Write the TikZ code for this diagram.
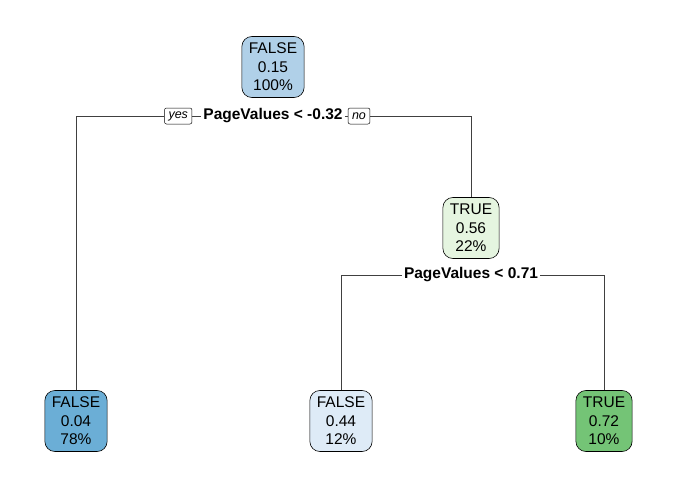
\documentclass[tikz,border=0pt]{standalone}
\usepackage{fontspec}
\setmainfont{Liberation Sans}
\usetikzlibrary{positioning}
\definecolor{rootblue}{RGB}{176,208,232}
\definecolor{darkblue}{RGB}{107,174,214}
\definecolor{paleblue}{RGB}{222,235,247}
\definecolor{palegreen}{RGB}{229,245,224}
\definecolor{midgreen}{RGB}{116,196,118}
\tikzset{
  tnode/.style  = {rectangle, draw=black, rounded corners=10pt, align=center,
                   font=\fontsize{15.5}{18.5}\selectfont, inner xsep=7pt,
                   inner ysep=3pt, minimum height=61pt, line width=0.6pt},
  split/.style  = {font=\fontsize{15.5}{17}\selectfont\bfseries, inner sep=2pt},
  yn/.style     = {rectangle, draw=black, rounded corners=2pt,
                   font=\fontsize{12.5}{13}\selectfont\itshape,
                   inner xsep=4pt, inner ysep=1.5pt, minimum height=16pt,
                   line width=0.5pt},
  edge/.style   = {draw=black!75, line width=0.8pt},
}
\begin{document}
\begin{tikzpicture}[x=1pt, y=-1pt]
  \useasboundingbox (0,0) rectangle (680,485);
  % tree nodes
  \node[tnode, fill=rootblue]   (root)  at (273,67)  {FALSE\\0.15\\100\%};
  \node[tnode, fill=palegreen]  (right) at (471,228) {TRUE\\0.56\\22\%};
  \node[tnode, fill=darkblue]   (leafA) at (76,421)  {FALSE\\0.04\\78\%};
  \node[tnode, fill=paleblue]   (leafB) at (341,421) {FALSE\\0.44\\12\%};
  \node[tnode, fill=midgreen]   (leafC) at (604,421) {TRUE\\0.72\\10\%};
  % split labels
  \node[split] (splitA) at (273,116) {PageValues < -0.32};
  \node[yn, left=9pt of splitA]  (yes) {yes};
  \node[yn, right=3pt of splitA] (no)  {no};
  \node[split] (splitB) at (471,275) {PageValues < 0.71};
  % connectors
  \draw[edge] (leafA.north) |- (yes.west);
  \draw[edge] (yes.east) -- (splitA.west);
  \draw[edge] (splitA.east) -- (no.west);
  \draw[edge] (no.east) -| (right.north);
  \draw[edge] (leafB.north) |- (splitB.west);
  \draw[edge] (splitB.east) -| (leafC.north);
\end{tikzpicture}
\end{document}
